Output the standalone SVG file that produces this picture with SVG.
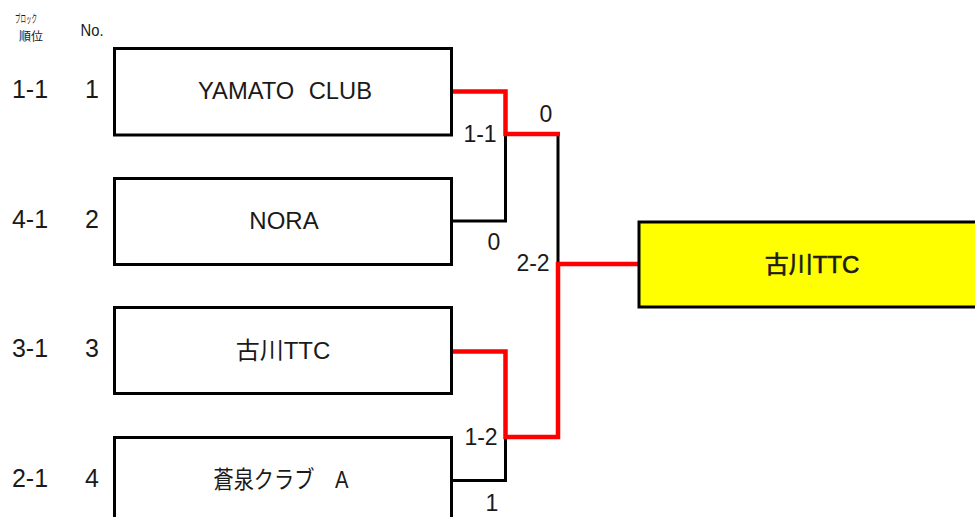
<svg xmlns="http://www.w3.org/2000/svg" width="975" height="517" viewBox="0 0 975 517">
<style>
  text { font-family: "Liberation Sans", "Noto Sans CJK JP", sans-serif; fill: #1a1a1a; }
  .box { fill: #ffffff; stroke: #000000; stroke-width: 3; }
  .win { fill: #ffff00; stroke: #000000; stroke-width: 3; }
  .name { font-size: 24px; text-anchor: middle; }
  .lbl { font-size: 25px; text-anchor: middle; }
  .score { font-size: 23px; text-anchor: middle; }
  .lose { fill: none; stroke: #000000; stroke-width: 3; }
  .wonl { fill: none; stroke: #ff0000; stroke-width: 4.5; }
</style>
<rect width="975" height="517" fill="#ffffff"/>
<g id="header">
  <text x="26" y="23" font-size="11" text-anchor="middle" textLength="22" lengthAdjust="spacingAndGlyphs">ブロック</text>
  <text x="31" y="41" font-size="12" text-anchor="middle">順位</text>
  <text x="92" y="36" font-size="17" text-anchor="middle" textLength="23" lengthAdjust="spacingAndGlyphs">No.</text>
</g>
<g id="row-labels">
  <text class="lbl" x="30" y="98">1-1</text>
  <text class="lbl" x="92" y="98">1</text>
  <text class="lbl" x="30" y="228">4-1</text>
  <text class="lbl" x="92" y="228">2</text>
  <text class="lbl" x="30" y="357">3-1</text>
  <text class="lbl" x="92" y="357">3</text>
  <text class="lbl" x="30" y="487">2-1</text>
  <text class="lbl" x="92" y="487">4</text>
</g>
<g id="connectors">
  <polyline class="lose" points="505.5,134 505.5,221 452,221"/>
  <polyline class="lose" points="558,134 558,264"/>
  <polyline class="lose" points="505.5,437 505.5,480.5 452,480.5"/>
  <polyline class="wonl" points="452,91.5 505.5,91.5 505.5,134 560,134"/>
  <polyline class="wonl" points="452,351.5 505.5,351.5 505.5,437 558,437 558,264 639,264"/>
</g>
<g id="scores">
  <text class="score" x="480" y="142">1-1</text>
  <text class="score" x="546" y="122">0</text>
  <text class="score" x="494" y="250">0</text>
  <text class="score" x="533" y="271">2-2</text>
  <text class="score" x="481" y="445">1-2</text>
  <text class="score" x="492" y="511">1</text>
</g>
<g id="team1">
  <rect class="box" x="114.5" y="48.5" width="337" height="86.5"/>
  <text class="name" x="285" y="99" word-spacing="8" textLength="174" lengthAdjust="spacingAndGlyphs">YAMATO CLUB</text>
</g>
<g id="team2">
  <rect class="box" x="114.5" y="178.5" width="337" height="86"/>
  <text class="name" x="284" y="229">NORA</text>
</g>
<g id="team3">
  <rect class="box" x="114.5" y="307.5" width="337" height="86"/>
  <text class="name" x="283" y="359">古川TTC</text>
</g>
<g id="team4">
  <rect class="box" x="114.5" y="437.5" width="337" height="90"/>
  <text class="name" x="281" y="488" word-spacing="18" textLength="135" lengthAdjust="spacingAndGlyphs">蒼泉クラブ A</text>
</g>
<g id="winner">
  <rect class="win" x="639" y="222" width="400" height="85"/>
  <text class="name" x="812" y="273" stroke="#1a1a1a" stroke-width="0.6">古川TTC</text>
</g>
</svg>
